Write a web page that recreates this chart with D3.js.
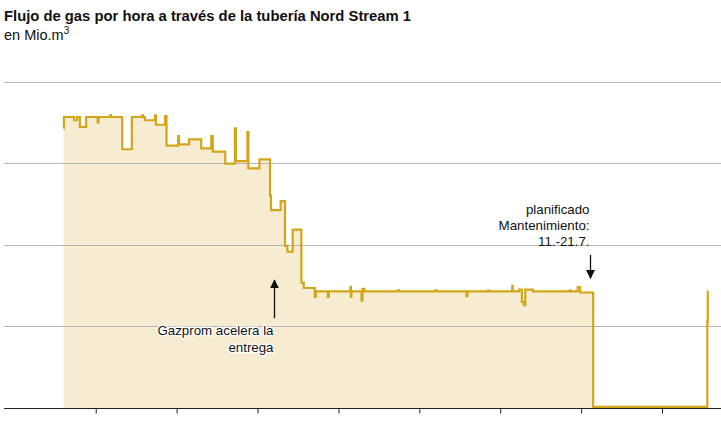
<!DOCTYPE html>
<html>
<head>
<meta charset="utf-8">
<script src="https://cdn.jsdelivr.net/npm/d3@7"></script>
<style>
  body { margin: 0; background: #fff; }
  svg { display: block; font-family: 'Liberation Sans', Arial, sans-serif; }
</style>
</head>
<body>
<div id="chart"></div>
<script>
// hourly flow through Nord Stream 1, mio. m3
var times = [
  '2022-05-26 05:00', '2022-05-26 06:00', '2022-05-27 03:00', '2022-05-27 09:00',
  '2022-05-27 15:00', '2022-05-28 04:00', '2022-05-29 04:00', '2022-05-29 06:00',
  '2022-05-30 06:00', '2022-05-30 08:00', '2022-05-31 07:00', '2022-06-01 03:00',
  '2022-06-02 00:00', '2022-06-02 02:00', '2022-06-02 06:00', '2022-06-03 03:00',
  '2022-06-03 05:00', '2022-06-04 00:00', '2022-06-04 03:00', '2022-06-05 03:00',
  '2022-06-05 05:00', '2022-06-06 02:00', '2022-06-07 03:00', '2022-06-08 00:00',
  '2022-06-08 03:00', '2022-06-09 05:00', '2022-06-10 01:00', '2022-06-10 03:00',
  '2022-06-11 02:00', '2022-06-11 03:00', '2022-06-11 05:00', '2022-06-12 04:00',
  '2022-06-13 02:00', '2022-06-13 04:00', '2022-06-14 00:00', '2022-06-14 09:00',
  '2022-06-14 14:00', '2022-06-15 01:00', '2022-06-15 19:00', '2022-06-16 00:00',
  '2022-06-16 23:00', '2022-06-17 01:00', '2022-06-18 02:00', '2022-06-18 04:00',
  '2022-06-20 01:00', '2022-06-20 02:00', '2022-06-20 03:00', '2022-06-21 00:00',
  '2022-06-21 02:00', '2022-06-21 06:00', '2022-06-24 04:00', '2022-06-24 05:00',
  '2022-06-27 10:00', '2022-06-27 11:00', '2022-06-30 02:00', '2022-06-30 04:00',
  '2022-07-01 23:00', '2022-07-02 00:00', '2022-07-04 01:00', '2022-07-04 02:00',
  '2022-07-04 15:00', '2022-07-04 21:00', '2022-07-05 01:00', '2022-07-05 04:00',
  '2022-07-05 20:00', '2022-07-09 01:00', '2022-07-09 02:00', '2022-07-09 17:00',
  '2022-07-09 22:00', '2022-07-11 01:00', '2022-07-20 22:00', '2022-07-20 23:00',
  '2022-07-21 00:00'
];
var flow = [
  6.86, 7.13, 7.05, 7.13,
  6.89, 7.13, 7.00, 7.13,
  7.17, 7.13, 6.34, 7.13,
  7.17, 7.13, 7.05, 7.17,
  6.94, 7.15, 6.43, 6.66,
  6.46, 6.58, 6.36, 6.66,
  6.28, 5.99, 6.85, 6.05,
  6.05, 6.76, 5.87, 6.09,
  5.21, 4.85, 5.07, 3.97,
  3.83, 4.37, 3.07, 2.94,
  2.72, 2.86, 2.72, 2.86,
  2.97, 2.72, 2.86, 2.63,
  2.92, 2.86, 2.89, 2.86,
  2.89, 2.86, 2.74, 2.86,
  2.88, 2.86, 2.99, 2.86,
  2.90, 2.60, 2.52, 2.90,
  2.86, 2.88, 2.86, 2.96,
  2.83, 0.03, 2.11, 2.86,
  2.86
];
var gridValues = [2, 4, 6, 8];
var tickDates = ['2022-05-29', '2022-06-05', '2022-06-12', '2022-06-19',
                 '2022-06-26', '2022-07-03', '2022-07-10', '2022-07-17'];
var title = 'Flujo de gas por hora a través de la tubería Nord Stream 1';
var subtitle = 'en Mio.m';
var noteGazprom = ['Gazprom acelera la', 'entrega'];
var noteMaint = ['planificado', 'Mantenimiento:', '11.-21.7.'];

var width = 721, height = 435;
var parse = d3.timeParse('%Y-%m-%d %H:%M'),
    parseDay = d3.timeParse('%Y-%m-%d');

var data = times.map(function(t, i) { return { date: parse(t), value: flow[i] }; });

var x = d3.scaleTime()
  .domain([parse('2022-05-21 01:30'), parse('2022-07-22 02:30')])
  .range([4, 721]);
var y = d3.scaleLinear().domain([0, 8]).range([408, 81.5]);

var svg = d3.select('#chart').append('svg')
  .attr('width', width)
  .attr('height', height);

// titles
svg.append('text')
  .attr('x', 4).attr('y', 21)
  .style('font-size', '14.8px').style('font-weight', 'bold').style('fill', '#111')
  .text(title);
var sub = svg.append('text')
  .attr('x', 4).attr('y', 40)
  .style('font-size', '14.5px').style('fill', '#111')
  .text(subtitle);
sub.append('tspan')
  .attr('dy', -6)
  .style('font-size', '10px')
  .text('3');

// area + line
var area = d3.area()
  .curve(d3.curveStepAfter)
  .x(function(d) { return x(d.date); })
  .y0(y(0))
  .y1(function(d) { return y(d.value); });
var line = d3.line()
  .curve(d3.curveStepAfter)
  .x(function(d) { return x(d.date); })
  .y(function(d) { return y(d.value); });

svg.append('path')
  .datum(data)
  .attr('d', area)
  .style('fill', '#f6ecd2');

// gridlines
svg.append('g')
  .selectAll('line')
  .data(gridValues)
  .join('line')
  .attr('x1', 4).attr('x2', width)
  .attr('y1', function(d) { return Math.round(y(d)) + 0.5; })
  .attr('y2', function(d) { return Math.round(y(d)) + 0.5; })
  .style('stroke', '#b5b5b5')
  .style('stroke-width', 1);

svg.append('path')
  .datum(data)
  .attr('d', line)
  .style('fill', 'none')
  .style('stroke', '#d3a619')
  .style('stroke-width', 2.2);

// x axis, ticks without labels
var axis = d3.axisBottom(x)
  .tickValues(tickDates.map(parseDay))
  .tickSize(5)
  .tickSizeOuter(0)
  .tickFormat('');
var gx = svg.append('g')
  .attr('transform', 'translate(0,' + (y(0) + 0.5) + ')')
  .call(axis);
gx.select('.domain').attr('d', 'M4,0H' + width).style('stroke', '#222');
gx.selectAll('.tick line').style('stroke', '#222');

// arrow heads
var defs = svg.append('defs');
defs.append('marker')
  .attr('id', 'head')
  .attr('viewBox', '0 0 10 10')
  .attr('refX', 9).attr('refY', 5)
  .attr('markerWidth', 9).attr('markerHeight', 9)
  .attr('markerUnits', 'userSpaceOnUse')
  .attr('orient', 'auto')
  .append('path')
  .attr('d', 'M0,0L10,5L0,10Z')
  .style('fill', '#111');

function annotate(date, from, to, lines, textY, lineGap, halo) {
  var ax = Math.round(x(parse(date))) + 0.5;
  svg.append('line')
    .attr('x1', ax).attr('x2', ax)
    .attr('y1', y(from)).attr('y2', y(to))
    .style('stroke', '#111').style('stroke-width', 1.3)
    .attr('marker-end', 'url(#head)');
  var t = svg.append('text')
    .attr('text-anchor', 'end')
    .style('font-size', '13.3px').style('fill', '#111');
  if (halo) {
    t.style('stroke', '#fff').style('stroke-width', 3)
     .style('stroke-linejoin', 'round').style('paint-order', 'stroke');
  }
  t.selectAll('tspan')
    .data(lines)
    .join('tspan')
    .attr('x', ax - 1)
    .attr('y', function(d, i) { return textY + i * lineGap; })
    .text(function(d) { return d; });
}

annotate('2022-06-13 10:00', 2.2, 3.13, noteGazprom, 335, 17, true);
annotate('2022-07-10 18:00', 3.75, 3.18, noteMaint, 214, 16, false);
</script>
</body>
</html>
